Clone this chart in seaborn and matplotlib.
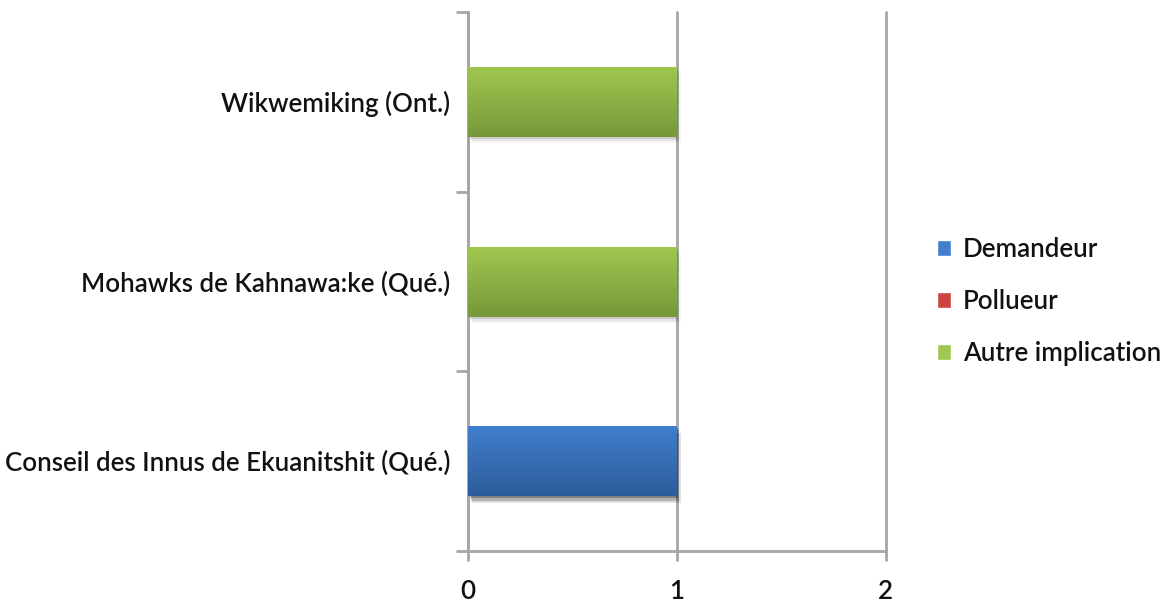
import numpy as np
import pandas as pd
import matplotlib
matplotlib.use("Agg")
import matplotlib.pyplot as plt
import matplotlib.colors as mcolors
from matplotlib.patches import Rectangle
import seaborn as sns

# Data
communities = [
    "Wikwemiking (Ont.)",
    "Mohawks de Kahnawa:ke (Qué.)",
    "Conseil des Innus de Ekuanitshit (Qué.)",
]
series_names = ["Demandeur", "Pollueur", "Autre implication"]
demandeur = [0, 0, 1]
pollueur = [0, 0, 0]
autre = [1, 1, 0]
x_ticks = [0, 1, 2]

colors = {"Demandeur": ("#417fcd", "#2c5c9b"),
          "Pollueur": ("#cc4440", "#a02a27"),
          "Autre implication": ("#a0c850", "#76983a")}

sns.set_theme(style="white")
plt.rcParams["font.family"] = ["Lato", "DejaVu Sans"]
FS = 18.6
WEIGHT = "semibold"
TXT = dict(fontsize=FS, color="#111111", fontweight=WEIGHT)

df = pd.DataFrame({"community": communities,
                   "Demandeur": demandeur,
                   "Pollueur": pollueur,
                   "Autre implication": autre})

fig = plt.figure(figsize=(11.7, 6.03), dpi=100)
ax = fig.add_axes([0.4, 0.0862, 0.757 - 0.4, 0.98 - 0.0862])

# stacked bars: draw cumulative totals from the top series down
cum = df[series_names].cumsum(axis=1)
bar_w = 0.39
patch_series = []
for name in reversed(series_names):
    n_before = len(ax.patches)
    sns.barplot(x=cum[name], y=df["community"], orient="h", ax=ax,
                color=colors[name][0], width=bar_w, edgecolor="none",
                saturation=1, order=communities, zorder=3)
    for p in ax.patches[n_before:]:
        patch_series.append((p, name))

# vertical gradient + soft shadow on each visible bar
for p, name in patch_series:
    w = p.get_width()
    if w <= 0:
        p.set_visible(False)
        continue
    top_c, bot_c = colors[name]
    x0, y0, h = p.get_x(), p.get_y(), p.get_height()
    for k, a in enumerate([0.10, 0.07, 0.04]):
        sh = Rectangle((x0 + 0.006 * (k + 1), y0 + 0.012 * (k + 1)), w, h,
                       facecolor="black", alpha=a, edgecolor="none", zorder=2)
        ax.add_patch(sh)
    cmap = mcolors.LinearSegmentedColormap.from_list("g", [top_c, bot_c])
    grad = np.linspace(0, 1, 256).reshape(-1, 1)
    im = ax.imshow(grad, cmap=cmap, aspect="auto",
                   extent=(x0, x0 + w, y0 + h, y0), zorder=4)
    im.set_clip_path(p)

ax.set_xlim(0, 2)
ax.set_ylim(2.5, -0.5)
ax.set_xlabel("")
ax.set_ylabel("")

# x axis
ax.set_xticks(x_ticks)
ax.set_xticklabels([str(t) for t in x_ticks], **TXT)
ax.xaxis.grid(True, color="#a6a6a6", linewidth=2, zorder=1)
for gl in ax.get_xgridlines():
    gl.set_clip_on(False)
ax.tick_params(axis="x", direction="out", length=7, width=2, color="#a6a6a6",
               pad=13, bottom=True)

# y axis: boundary ticks, labels centred in each band
ax.set_yticks([-0.5, 0.5, 1.5, 2.5])
ax.set_yticklabels([])
ax.set_yticks(range(len(communities)), minor=True)
ax.set_yticklabels(communities, minor=True, **TXT)
ax.tick_params(axis="y", which="major", direction="out", length=9, width=2,
               color="#a6a6a6", left=True)
ax.tick_params(axis="y", which="minor", length=0, pad=13)

for s in ["top", "right"]:
    ax.spines[s].set_visible(False)
for s in ["left", "bottom"]:
    ax.spines[s].set_color("#a6a6a6")
    ax.spines[s].set_linewidth(2)
ax.set_axisbelow(True)

handles = [Rectangle((0, 0), 1, 1, facecolor=colors[n][0]) for n in series_names]
leg = fig.legend(handles, series_names, loc="center left",
                 bbox_to_anchor=(0.781, 0.5), frameon=False,
                 prop={"size": FS, "weight": WEIGHT},
                 handlelength=0.55, handleheight=0.55, handletextpad=0.45,
                 labelspacing=1.05)
for t in leg.get_texts():
    t.set_color("#111111")

fig.savefig("out.png", dpi=100, facecolor="white")
